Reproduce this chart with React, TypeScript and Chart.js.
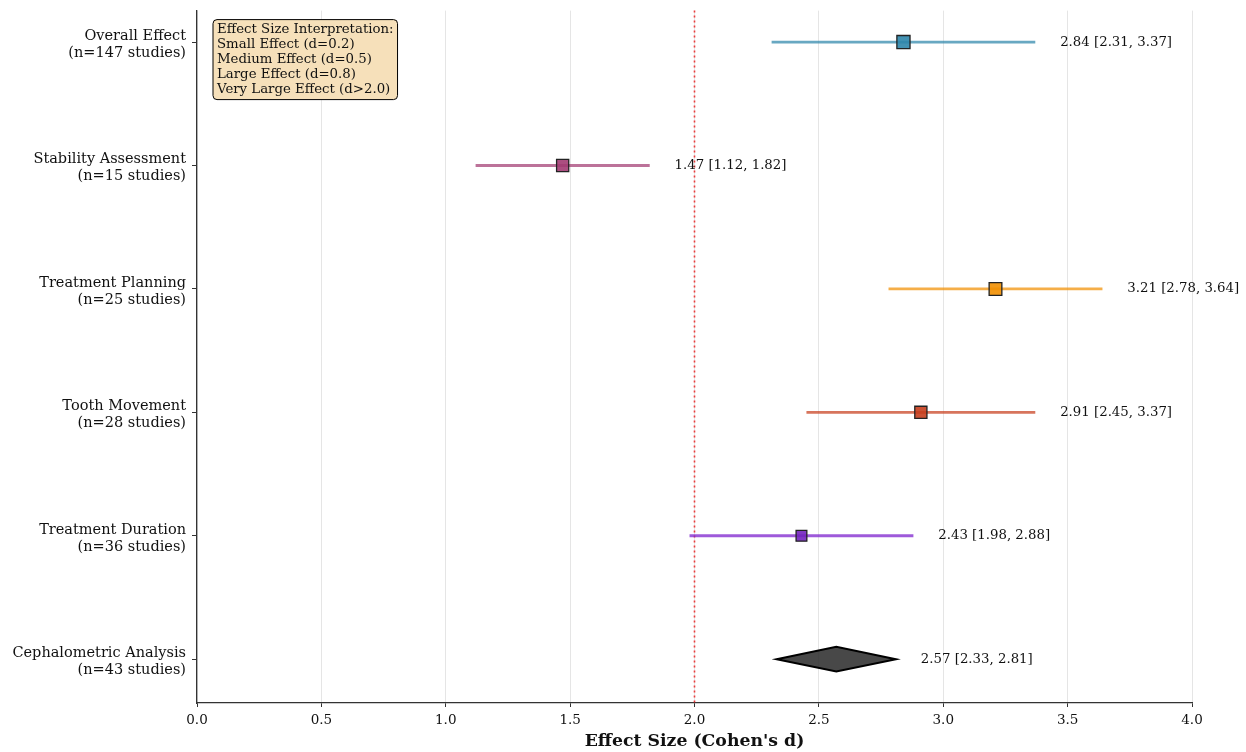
import React, { useEffect, useRef } from 'react';
import { Chart, registerables } from 'chart.js';

Chart.register(...registerables);

// ---------- data ----------
const categories = [
  'Overall Effect',
  'Stability Assessment',
  'Treatment Planning',
  'Tooth Movement',
  'Treatment Duration',
  'Cephalometric Analysis',
];
const studyCounts = [147, 15, 25, 28, 36, 43];
const effectSizes = [2.84, 1.47, 3.21, 2.91, 2.43, 2.57];
const ciLower = [2.31, 1.12, 2.78, 2.45, 1.98, 2.33];
const ciUpper = [3.37, 1.82, 3.64, 3.37, 2.88, 2.81];
const pooledRow = [false, false, false, false, false, true];
const xTicks = [0, 0.5, 1.0, 1.5, 2.0, 2.5, 3.0, 3.5, 4.0];
const referenceValue = 2.0;
const legendLines = [
  'Effect Size Interpretation:',
  'Small Effect (d=0.2)',
  'Medium Effect (d=0.5)',
  'Large Effect (d=0.8)',
  'Very Large Effect (d>2.0)',
];

// ---------- styles ----------
const FONT = "'DejaVu Serif', serif";
const lineColors = [
  'rgba(46,134,171,0.72)',
  'rgba(162,59,114,0.72)',
  'rgba(241,143,1,0.72)',
  'rgba(199,62,29,0.72)',
  'rgba(125,35,205,0.75)',
  'rgba(0,0,0,0)',
];
const markerColors = [
  'rgba(46,134,171,0.9)',
  'rgba(162,59,114,0.9)',
  'rgba(241,143,1,0.9)',
  'rgba(199,62,29,0.9)',
  'rgba(115,35,190,0.9)',
  'rgba(0,0,0,0)',
];
const markerRadius = [9.3, 8.6, 9.0, 8.6, 7.6, 0];

const yPos = (i: number) => categories.length - 1 - i;

const forestPlugin = {
  id: 'forestExtras',
  beforeDatasetsDraw(chart: any) {
    const { ctx, chartArea, scales } = chart;
    const x = scales.x.getPixelForValue(referenceValue);
    ctx.save();
    ctx.strokeStyle = 'rgba(235,30,30,0.85)';
    ctx.lineWidth = 1.6;
    ctx.setLineDash([2, 3]);
    ctx.beginPath();
    ctx.moveTo(x, chartArea.top);
    ctx.lineTo(x, chartArea.bottom);
    ctx.stroke();
    ctx.restore();
  },
  afterDatasetsDraw(chart: any) {
    const { ctx, chartArea, scales } = chart;
    const xs = scales.x;
    const ys = scales.y;
    ctx.save();
    // pooled diamonds
    categories.forEach((_, i) => {
      if (!pooledRow[i]) return;
      const y = yPos(i);
      ctx.beginPath();
      ctx.moveTo(xs.getPixelForValue(ciLower[i]), ys.getPixelForValue(y));
      ctx.lineTo(xs.getPixelForValue(effectSizes[i]), ys.getPixelForValue(y + 0.1));
      ctx.lineTo(xs.getPixelForValue(ciUpper[i]), ys.getPixelForValue(y));
      ctx.lineTo(xs.getPixelForValue(effectSizes[i]), ys.getPixelForValue(y - 0.1));
      ctx.closePath();
      ctx.fillStyle = 'rgba(40,40,40,0.85)';
      ctx.fill();
      ctx.lineWidth = 2;
      ctx.strokeStyle = '#000';
      ctx.lineJoin = 'miter';
      ctx.stroke();
    });
    // value labels
    ctx.font = `13.3px ${FONT}`;
    ctx.fillStyle = '#111';
    ctx.textAlign = 'left';
    ctx.textBaseline = 'middle';
    categories.forEach((_, i) => {
      const txt = `${effectSizes[i].toFixed(2)} [${ciLower[i].toFixed(2)}, ${ciUpper[i].toFixed(2)}]`;
      ctx.fillText(txt, xs.getPixelForValue(ciUpper[i] + 0.1), ys.getPixelForValue(yPos(i)));
    });
    // interpretation box
    const bx = chartArea.left + 16;
    const by = chartArea.top + 9;
    const lh = 15;
    ctx.font = `13.3px ${FONT}`;
    let w = 0;
    legendLines.forEach((l) => (w = Math.max(w, ctx.measureText(l).width)));
    const bw = w + 8;
    const bh = (legendLines.length - 1) * lh + 20;
    ctx.beginPath();
    ctx.roundRect(bx, by, bw, bh, 4);
    ctx.fillStyle = '#F6E0BA';
    ctx.fill();
    ctx.lineWidth = 1;
    ctx.strokeStyle = '#000';
    ctx.stroke();
    ctx.fillStyle = '#111';
    legendLines.forEach((l, k) => {
      ctx.fillText(l, bx + 4, by + 10 + k * lh);
    });
    ctx.restore();
  },
};

export default function App() {
  const ref = useRef<HTMLCanvasElement | null>(null);
  useEffect(() => {
    if (!ref.current) return;
    const ciDatasets = categories
      .map((_, i) => i)
      .filter((i) => !pooledRow[i])
      .map((i) => ({
        type: 'line' as const,
        data: [
          { x: ciLower[i], y: yPos(i) },
          { x: ciUpper[i], y: yPos(i) },
        ],
        borderColor: lineColors[i],
        borderWidth: 2.8,
        pointRadius: 0,
        showLine: true,
        order: 2,
      }));
    const idx = categories.map((_, i) => i).filter((i) => !pooledRow[i]);
    const pointDataset = {
      type: 'scatter' as const,
      data: idx.map((i) => ({ x: effectSizes[i], y: yPos(i) })),
      pointStyle: 'rect',
      pointRadius: idx.map((i) => markerRadius[i]),
      pointBackgroundColor: idx.map((i) => markerColors[i]),
      pointBorderColor: '#222',
      pointBorderWidth: 1.3,
      order: 1,
    };
    const chart = new Chart(ref.current, {
      type: 'scatter',
      data: { datasets: [...ciDatasets, pointDataset] as any },
      options: {
        animation: false,
        responsive: false,
        layout: { padding: { top: 9, right: 54, left: 0, bottom: 0 } },
        plugins: { legend: { display: false }, tooltip: { enabled: false } },
        scales: {
          x: {
            type: 'linear',
            min: 0,
            max: 4,
            afterBuildTicks: (s: any) => {
              s.ticks = xTicks.map((v) => ({ value: v }));
            },
            afterFit: (s: any) => {
              s.height = 49;
              s.paddingLeft = 0;
              s.paddingRight = 0;
            },
            ticks: {
              callback: (v: any) => Number(v).toFixed(1),
              font: { family: FONT, size: 13.5 },
              color: '#111',
              padding: 5,
              maxRotation: 0,
            },
            grid: {
              color: 'rgba(0,0,0,0.1)',
              tickColor: '#333',
              tickLength: 4,
            },
            border: { color: '#333', width: 1.3 },
            title: {
              display: true,
              text: "Effect Size (Cohen's d)",
              font: { family: FONT, size: 17.3, weight: 'bold' },
              color: '#111',
              padding: { top: 0, bottom: 0 },
            },
          },
          y: {
            type: 'linear',
            min: -0.355,
            max: 5.255,
            afterBuildTicks: (s: any) => {
              s.ticks = categories.map((_, i) => ({ value: yPos(i) }));
            },
            afterFit: (s: any) => {
              s.width = 197;
              s.paddingTop = 0;
              s.paddingBottom = 0;
            },
            ticks: {
              callback: (v: any) => {
                const i = categories.length - 1 - Math.round(Number(v));
                return [categories[i], `(n=${studyCounts[i]} studies)`];
              },
              font: { family: FONT, size: 14.5, lineHeight: 1.17 },
              color: '#111',
              padding: 6,
              labelOffset: 2.5,
            },
            grid: { drawOnChartArea: false, tickColor: '#333', tickLength: 5 },
            border: { color: '#333', width: 1.3 },
          },
        },
      },
      plugins: [forestPlugin],
    });
    return () => chart.destroy();
  }, []);
  return (
    <div style={{ position: 'fixed', left: 0, top: 0, width: 1246, height: 752, background: '#fff' }}>
      <canvas ref={ref} width={1246} height={752} style={{ width: 1246, height: 752 }} />
    </div>
  );
}
